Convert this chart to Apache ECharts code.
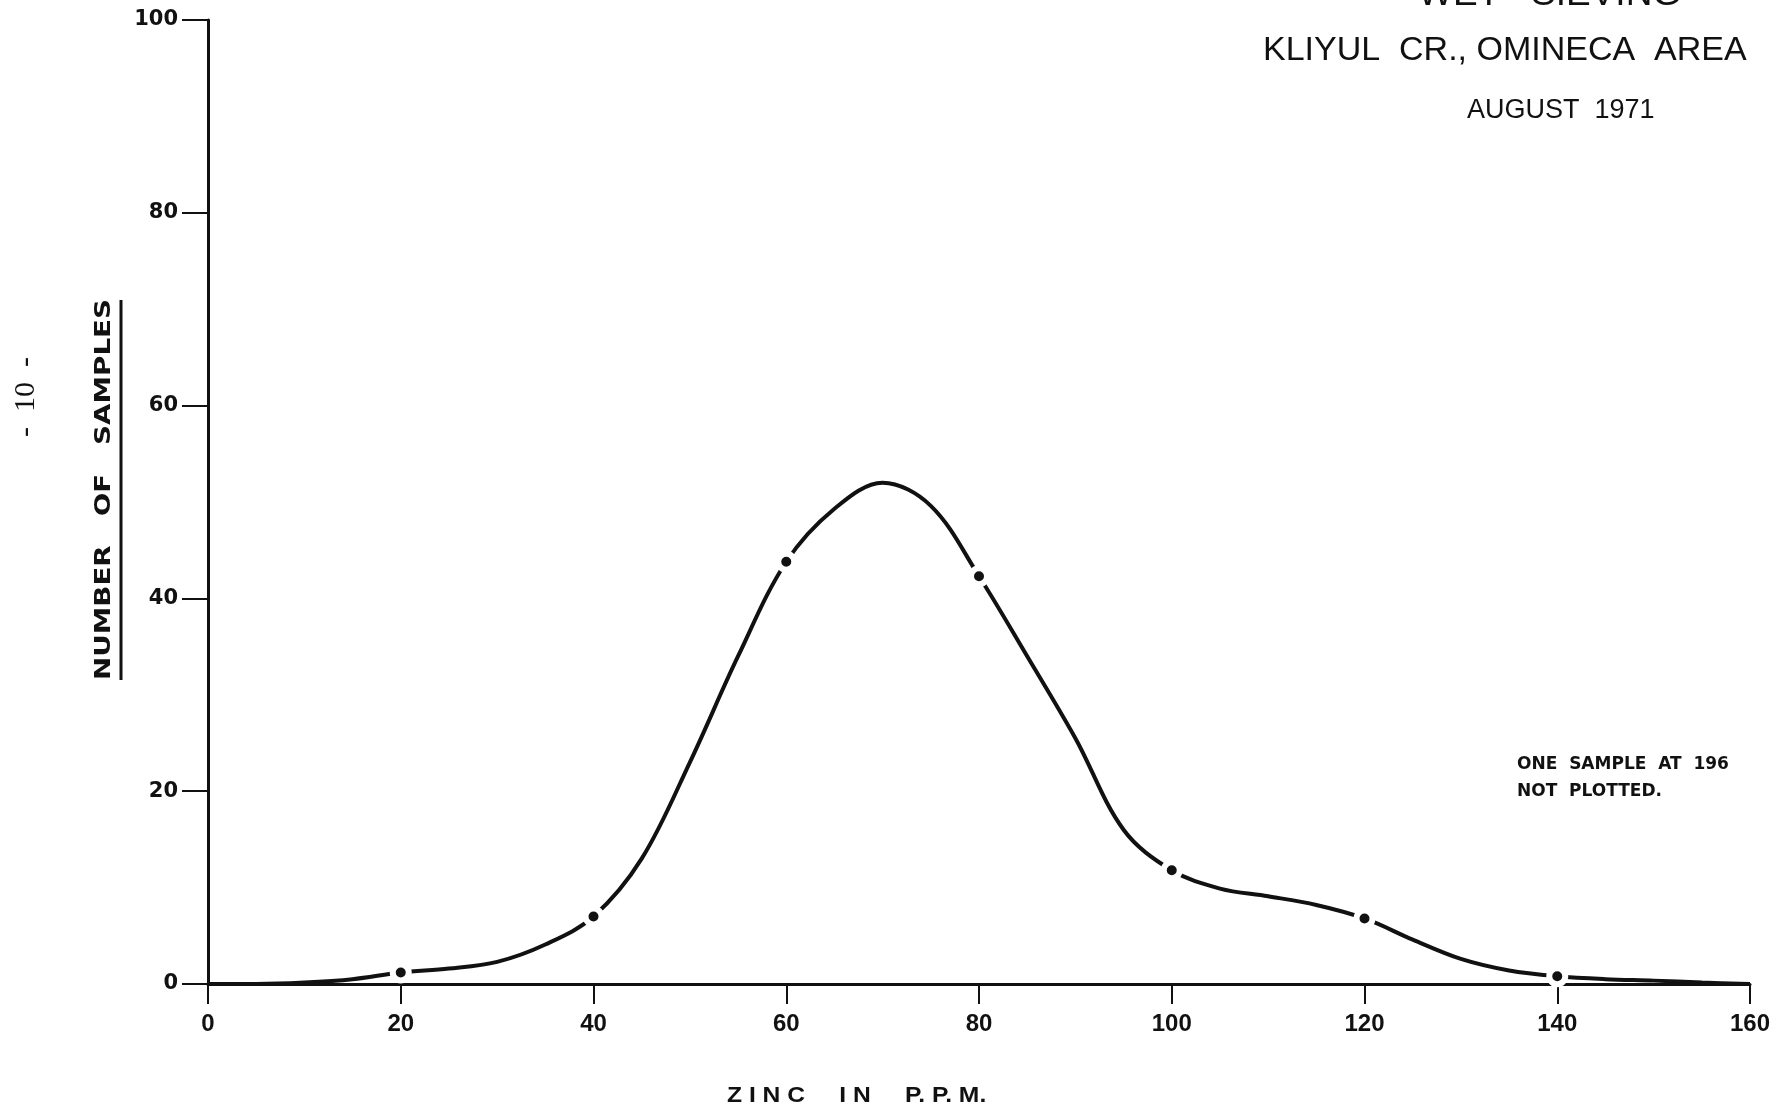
<!DOCTYPE html>
<html>
<head>
<meta charset="utf-8">
<script src="https://cdn.jsdelivr.net/npm/echarts@6/dist/echarts.min.js"></script>
<style>
html,body{margin:0;padding:0;background:#fff;}
#chart{width:1779px;height:1109px;}
</style>
</head>
<body>
<div id="chart"></div>
<script>
// ---- data ----
var zincPpm = [0,5,10,15,20,25,30,35,40,45,50,55,60,65,70,75,80,85,90,95,100,105,110,115,120,125,130,135,140,145,150,155,160];
var sampleCounts = [0,0,0.15,0.5,1.2,1.6,2.3,4.1,7,13,23,34,43.8,49.3,52,49.6,42.3,34,25.5,16,11.8,9.9,9.1,8.2,6.8,4.6,2.6,1.4,0.8,0.5,0.35,0.15,0];
var plottedPoints = [20,40,60,80,100,120,140];
var xTicks = [0,20,40,60,80,100,120,140,160];
var yTicks = [0,20,40,60,80,100];

var titleLines = ['WET   SIEVING','KLIYUL  CR., OMINECA  AREA','AUGUST  1971'];
var xAxisTitle = 'Z I N C     I N     P. P. M.';
var yAxisTitle = 'NUMBER   OF   SAMPLES';
var noteLines = ['ONE  SAMPLE  AT  196','NOT  PLOTTED.'];
var pageNumber = '-  10  -';

var curve = zincPpm.map(function(x,i){return [x, sampleCounts[i]];});
var dots = plottedPoints.map(function(x){return [x, sampleCounts[zincPpm.indexOf(x)]];});

var chart = echarts.init(document.getElementById('chart'), null, {renderer:'canvas'});
var boldWide = '"DejaVu Sans", sans-serif';
var boldNarrow = '"Liberation Sans Narrow", "Liberation Sans", sans-serif';

chart.setOption({
  backgroundColor:'#ffffff',
  animation:false,
  grid:{left:208, right:29, top:20, bottom:125, containLabel:false},
  xAxis:{
    type:'value', min:0, max:160, interval:20,
    axisLine:{show:true, onZero:false, lineStyle:{color:'#111', width:3}},
    axisTick:{show:true, inside:false, length:20, lineStyle:{color:'#111', width:2}},
    axisLabel:{color:'#111', fontFamily:boldNarrow, fontWeight:'bold', fontSize:24, margin:28,
      formatter:function(v){return xTicks.indexOf(v)>=0 ? String(v) : '';}},
    splitLine:{show:false}
  },
  yAxis:{
    type:'value', min:0, max:100, interval:20,
    axisLine:{show:true, lineStyle:{color:'#111', width:3}},
    axisTick:{show:true, inside:false, length:26, lineStyle:{color:'#111', width:2}},
    axisLabel:{color:'#111', fontFamily:boldWide, fontWeight:'bold', fontSize:21, margin:30,
      formatter:function(v){return yTicks.indexOf(v)>=0 ? String(v) : '';}},
    splitLine:{show:false}
  },
  series:[
    {type:'line', data:curve, smooth:0.35, symbol:'none',
      lineStyle:{color:'#111', width:4}, z:2},
    {type:'scatter', data:dots, symbol:'circle', symbolSize:16,
      itemStyle:{color:'#111', opacity:1, borderColor:'#ffffff', borderWidth:6}, z:3}
  ],
  graphic:[
    {type:'text', left:1418, top:-24, style:{text:titleLines[0], font:'37px "Liberation Sans", sans-serif', fill:'#111'}},
    {type:'text', left:1263, top:34, style:{text:titleLines[1], font:'34px "Liberation Sans", sans-serif', fill:'#111'}},
    {type:'text', left:1467, top:97, style:{text:titleLines[2], font:'27px "Liberation Sans", sans-serif', fill:'#111'}},
    {type:'text', x:727, y:1085, scaleX:1.12, style:{text:xAxisTitle, font:'bold 22px "Liberation Sans", sans-serif', fill:'#111'}},
    {type:'text', x:104, y:680, rotation:Math.PI/2, scaleX:1.26, style:{text:yAxisTitle, font:'bold 22px "DejaVu Sans", sans-serif', fill:'#111', textAlign:'left', textVerticalAlign:'middle'}},
    {type:'line', shape:{x1:121, y1:300, x2:121, y2:680}, style:{stroke:'#111', lineWidth:3}},
    {type:'text', x:26, y:397, rotation:Math.PI/2, style:{text:pageNumber, font:'30px "Liberation Serif", serif', fill:'#111', textAlign:'center', textVerticalAlign:'middle'}},
    {type:'text', left:1517, top:756, style:{text:noteLines[0], font:'bold 17px "DejaVu Sans", sans-serif', fill:'#111'}},
    {type:'text', left:1517, top:783, style:{text:noteLines[1], font:'bold 17px "DejaVu Sans", sans-serif', fill:'#111'}}
  ]
});
</script>
</body>
</html>
